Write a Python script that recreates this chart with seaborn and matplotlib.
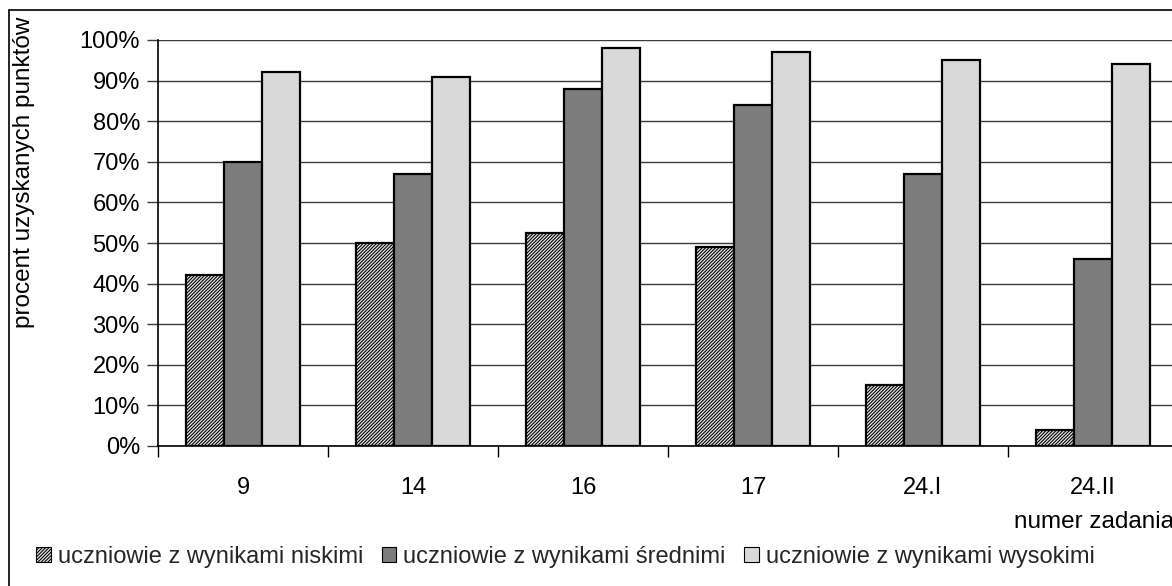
import matplotlib
matplotlib.use("Agg")
import matplotlib.pyplot as plt
from matplotlib.lines import Line2D
from matplotlib.ticker import FuncFormatter, FixedLocator
import seaborn as sns
import pandas as pd

categories = ["9", "14", "16", "17", "24.I", "24.II"]
low = [42, 50, 52.5, 49, 15, 4]
mid = [70, 67, 88, 84, 67, 46]
high = [92, 91, 98, 97, 95, 94]
series_names = ["uczniowie z wynikami niskimi",
                "uczniowie z wynikami średnimi",
                "uczniowie z wynikami wysokimi"]

rows = []
for name, vals in zip(series_names, [low, mid, high]):
    for c, v in zip(categories, vals):
        rows.append({"zadanie": c, "grupa": name, "procent": v / 100})
df = pd.DataFrame(rows)

sns.set_theme(style="white")
plt.rcParams["font.family"] = ["Liberation Sans", "DejaVu Sans"]
plt.rcParams["hatch.linewidth"] = 0.8

FS_TICK = 17
FS_LAB = 17.5
FS_LEG = 17
W, H = 1172, 586
fig = plt.figure(figsize=(W / 100, H / 100), dpi=100)
left, right, bottom, top = 158 / W, 1178 / W, 1 - 446 / H, 1 - 40 / H
ax = fig.add_axes([left, bottom, right - left, top - bottom])

sns.barplot(data=df, x="zadanie", y="procent", hue="grupa", order=categories,
            hue_order=series_names, width=0.67, gap=0, ax=ax, legend=False,
            palette=["#ffffff", "#7c7c7c", "#d9d9d9"], saturation=1)

styles = [dict(facecolor="#e8e8e8", hatch="//////////"),
          dict(facecolor="#7c7c7c", hatch=None),
          dict(facecolor="#d9d9d9", hatch=None)]
for cont, st in zip(ax.containers, styles):
    for p in cont:
        p.set_facecolor(st["facecolor"])
        p.set_edgecolor("black")
        p.set_linewidth(1.6)
        if st["hatch"]:
            p.set_hatch(st["hatch"])
        p.set_zorder(3)

ax.set_ylim(0, 1.0)
ax.set_xlim(-0.5, 5.5)
ax.yaxis.set_major_locator(FixedLocator([i / 10 for i in range(11)]))
ax.yaxis.set_major_formatter(FuncFormatter(lambda v, p: f"{v*100:.0f}%"))
ax.grid(axis="y", color="#3a3a3a", linewidth=1.0, zorder=0)
ax.set_axisbelow(True)

for s in ["top", "right"]:
    ax.spines[s].set_visible(False)
for s in ["left", "bottom"]:
    ax.spines[s].set_color("black")
    ax.spines[s].set_linewidth(1.2)

ax.tick_params(axis="y", which="major", length=8, width=1, color="#3a3a3a",
               direction="out", left=True, labelsize=FS_TICK, labelcolor="black", pad=5)
ax.set_xticks(range(len(categories)))
ax.set_xticklabels(categories)
ax.tick_params(axis="x", which="major", length=0, labelsize=FS_TICK, pad=22, labelcolor="black")
ax.set_xticks([i - 0.5 for i in range(len(categories) + 1)], minor=True)
ax.tick_params(axis="x", which="minor", length=8, width=1, color="black",
               direction="out", bottom=True)

ax.set_xlabel("")
ax.set_ylabel("procent uzyskanych punktów", fontsize=FS_LAB, color="black")
ax.yaxis.set_label_coords(-134 / (W * (right - left)), (446 - 172) / 406)
ax.yaxis.label.set_va("center")
fig.text(1174 / W, 1 - 522 / H, "numer zadania", ha="right", va="center",
         fontsize=FS_LAB, color="black")

handles = [plt.Rectangle((0, 0), 1, 1, facecolor=st["facecolor"], edgecolor="black",
                         linewidth=0.8, hatch=st["hatch"]) for st in styles]
fig.legend(handles, series_names, loc="center left", ncol=3,
           bbox_to_anchor=(27 / W, 1 - 557 / H), frameon=False, fontsize=FS_LEG,
           handlelength=0.6, handleheight=0.6, handletextpad=0.3,
           columnspacing=0.8, borderaxespad=0)

# outer chart border
fig.add_artist(Line2D([9 / W, 9 / W], [0, 1 - 10 / H], color="black", linewidth=1.2))
fig.add_artist(Line2D([9 / W, 1], [1 - 10 / H, 1 - 10 / H], color="black", linewidth=1.2))

fig.savefig("out.png", dpi=100)
